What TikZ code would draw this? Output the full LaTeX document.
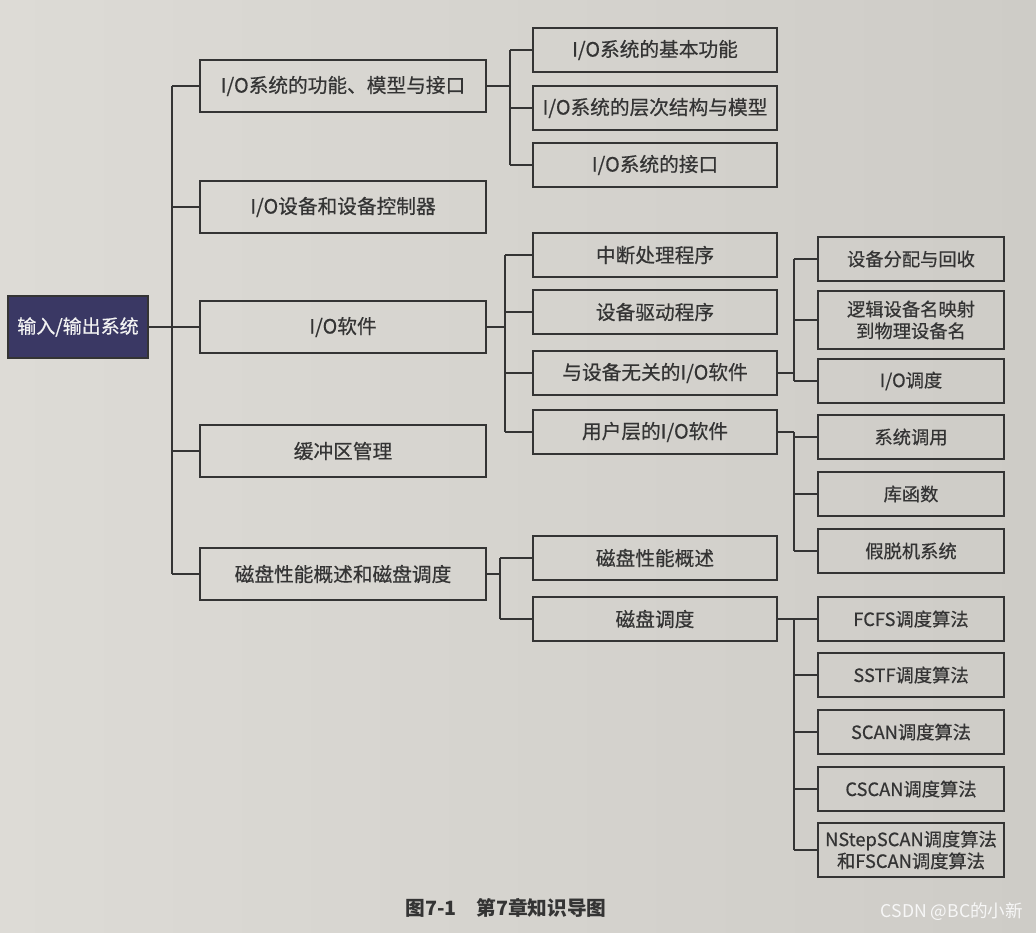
\documentclass[tikz,border=0pt]{standalone}
\usepackage{fontspec}
\setmainfont{Noto Sans CJK SC}
\newfontfamily\boxfont{Noto Sans CJK SC}[FakeBold=0.5]
\usetikzlibrary{positioning}

\definecolor{paperlight}{RGB}{221,219,214}
\definecolor{paperdark}{RGB}{206,204,199}
\definecolor{rootblue}{RGB}{58,56,100}
\definecolor{inkgray}{RGB}{52,52,52}

\begin{document}
\begin{tikzpicture}[
  x=0.025cm, y=-0.025cm,
  every node/.style={font=\boxfont\fontsize{14}{17}\selectfont, text=inkgray},
  box/.style={draw=inkgray, line width=1.4pt, align=center, inner sep=2pt},
  lone/.style={box, minimum width=7.15cm, minimum height=1.32cm},
  ltwo/.style={box, minimum width=6.1cm, minimum height=1.12cm},
  lthree/.style={box, minimum width=4.65cm, minimum height=1.12cm,
                 font=\boxfont\fontsize{13}{15.5}\selectfont},
  link/.style={draw=inkgray, line width=1.3pt},
]
  \useasboundingbox (0,0) rectangle (1036,932);
  \shade[left color=paperlight, right color=paperdark] (0,0) rectangle (1036,932);

  % root
  \node[box, fill=rootblue, text=white!90!gray, minimum width=3.5cm,
        minimum height=1.55cm, font=\boxfont\fontsize{13.5}{16}\selectfont] (root) at (78,327) {输入/输出系统};

  % level 1
  \node[lone] (fun)  at (343,86)  {I/O系统的功能、模型与接口};
  \node[lone] (dev)  at (343,207) {I/O设备和设备控制器};
  \node[lone] (soft) at (343,327) {I/O软件};
  \node[lone] (buf)  at (343,451) {缓冲区管理};
  \node[lone] (disk) at (343,574) {磁盘性能概述和磁盘调度};

  % level 2
  \node[ltwo] (basic) at (655,50)  {I/O系统的基本功能};
  \node[ltwo] (layer) at (655,108) {I/O系统的层次结构与模型};
  \node[ltwo] (iface) at (655,165) {I/O系统的接口};

  \node[ltwo] (intr)  at (655,255) {中断处理程序};
  \node[ltwo] (drv)   at (655,312) {设备驱动程序};
  \node[ltwo] (indep) at (655,373) {与设备无关的I/O软件};
  \node[ltwo] (user)  at (655,432) {用户层的I/O软件};

  \node[ltwo] (perf)  at (655,558) {磁盘性能概述};
  \node[ltwo] (sched) at (655,619) {磁盘调度};

  % level 3
  \node[lthree] (alloc) at (911,259) {设备分配与回收};
  \node[lthree, minimum height=1.45cm] (map) at (911,320) {逻辑设备名映射\\到物理设备名};
  \node[lthree] (iosch) at (911,381) {I/O调度};

  \node[lthree] (call)  at (911,437) {系统调用};
  \node[lthree] (lib)   at (911,494) {库函数};
  \node[lthree] (spool) at (911,551) {假脱机系统};

  \node[lthree] (fcfs)  at (911,619) {FCFS调度算法};
  \node[lthree] (sstf)  at (911,675) {SSTF调度算法};
  \node[lthree] (scan)  at (911,732) {SCAN调度算法};
  \node[lthree] (cscan) at (911,789) {CSCAN调度算法};
  \node[lthree, minimum height=1.35cm, inner sep=1pt] (nstep) at (911,850) {NStepSCAN调度算法\\和FSCAN调度算法};

  % junction columns
  \coordinate (jr) at (172,0);
  \coordinate (ja) at (510,0);
  \coordinate (jc) at (505,0);
  \coordinate (je) at (500,0);
  \coordinate (jt) at (794,0);

  % root to level 1
  \draw[link] (root.east) -- (root.east -| jr);
  \draw[link] (jr |- fun.west) -- (jr |- disk.west);
  \foreach \n in {fun,dev,soft,buf,disk}
    \draw[link] (jr |- \n.west) -- (\n.west);

  % level 1 to level 2
  \draw[link] (fun.east) -- (fun.east -| ja);
  \draw[link] (ja |- basic.west) -- (ja |- iface.west);
  \foreach \n in {basic,layer,iface}
    \draw[link] (ja |- \n.west) -- (\n.west);

  \draw[link] (soft.east) -- (soft.east -| jc);
  \draw[link] (jc |- intr.west) -- (jc |- user.west);
  \foreach \n in {intr,drv,indep,user}
    \draw[link] (jc |- \n.west) -- (\n.west);

  \draw[link] (disk.east) -- (disk.east -| je);
  \draw[link] (je |- perf.west) -- (je |- sched.west);
  \foreach \n in {perf,sched}
    \draw[link] (je |- \n.west) -- (\n.west);

  % level 2 to level 3
  \draw[link] (indep.east) -- (indep.east -| jt);
  \draw[link] (jt |- alloc.west) -- (jt |- iosch.west);
  \foreach \n in {alloc,map,iosch}
    \draw[link] (jt |- \n.west) -- (\n.west);

  \draw[link] (user.east) -- (user.east -| jt);
  \draw[link] (jt |- user.east) -- (jt |- spool.west);
  \foreach \n in {call,lib,spool}
    \draw[link] (jt |- \n.west) -- (\n.west);

  \draw[link] (sched.east) -- (sched.east -| jt);
  \draw[link] (jt |- fcfs.west) -- (jt |- nstep.west);
  \foreach \n in {fcfs,sstf,scan,cscan,nstep}
    \draw[link] (jt |- \n.west) -- (\n.west);

  % caption and mark
  \node[font=\bfseries\fontsize{14}{16}\selectfont] (cap) at (506,908) {图7-1\quad 第7章知识导图};
  \node[font=\fontsize{12.5}{15}\selectfont, text=white!94!gray] (mark) at (952,912) {CSDN @BC的小新};
\end{tikzpicture}
\end{document}
